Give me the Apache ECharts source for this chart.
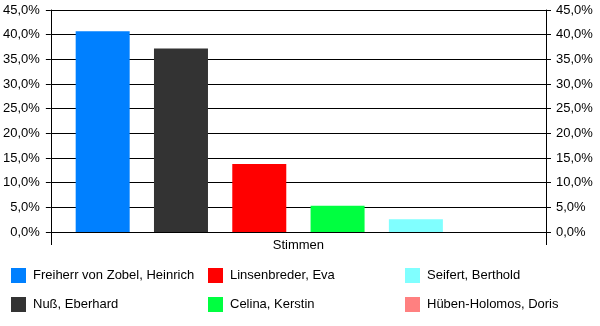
<!DOCTYPE html>
<html><head><meta charset="utf-8">
<script src="https://cdn.jsdelivr.net/npm/echarts@6/dist/echarts.min.js"></script>
<style>html,body{margin:0;padding:0;background:#fff}#c{width:600px;height:326px}</style>
</head><body><div id="c"></div>
<script>
var categories = ['Stimmen'];
var candidates = ['Freiherr von Zobel, Heinrich', 'Nuß, Eberhard', 'Linsenbreder, Eva', 'Celina, Kerstin', 'Seifert, Berthold', 'Hüben-Holomos, Doris'];
var values = [40.7, 37.2, 13.8, 5.3, 2.6, 0];
var colors = ['#0080ff', '#333333', '#ff0000', '#00ff40', '#80ffff', '#ff8080'];
var yTicks = [0, 5, 10, 15, 20, 25, 30, 35, 40, 45];

var FONT = 'Liberation Sans';
function fmt(v) { return v.toFixed(1).replace('.', ',') + '%'; }

var series = candidates.map(function (n, i) {
  return {
    name: n, type: 'bar', data: [values[i]], barWidth: 54, barGap: '45%',
    itemStyle: { color: colors[i] }, yAxisIndex: 0
  };
});

function legend(idx, x) {
  return {
    orient: 'vertical', left: x, top: 268, itemWidth: 15, itemHeight: 15, itemGap: 14,
    icon: 'rect', padding: 0,
    textStyle: { fontFamily: FONT, fontSize: 13, color: '#000', padding: [0, 0, 0, 2] },
    data: [candidates[idx], candidates[idx + 1]]
  };
}

var yBase = {
  type: 'value', min: yTicks[0], max: yTicks[yTicks.length - 1], interval: 5,
  axisLine: { show: true, lineStyle: { color: '#000', width: 1 } },
  axisTick: { show: true, length: 5, lineStyle: { color: '#000' } },
  axisLabel: { formatter: fmt, fontFamily: FONT, fontSize: 13, color: '#000', margin: 11 }
};

var option = {
  animation: false,
  textStyle: { fontFamily: FONT },
  grid: { left: 50, right: 54, top: 10, bottom: 94, containLabel: false },
  legend: [legend(0, 11), legend(2, 208), legend(4, 405)],
  xAxis: {
    type: 'category', data: categories,
    axisLine: { show: true, lineStyle: { color: '#000' } },
    axisTick: { show: true, length: 13, lineStyle: { color: '#000' } },
    axisLabel: { fontFamily: FONT, fontSize: 13, color: '#000', margin: 7 }
  },
  yAxis: [
    Object.assign({}, yBase, { position: 'left', splitLine: { show: true, lineStyle: { color: '#000', width: 1 } } }),
    Object.assign({}, yBase, { position: 'right', splitLine: { show: false }, axisLabel: Object.assign({}, yBase.axisLabel, { margin: 10 }) })
  ],
  series: series
};
echarts.init(document.getElementById('c')).setOption(option);
</script></body></html>
